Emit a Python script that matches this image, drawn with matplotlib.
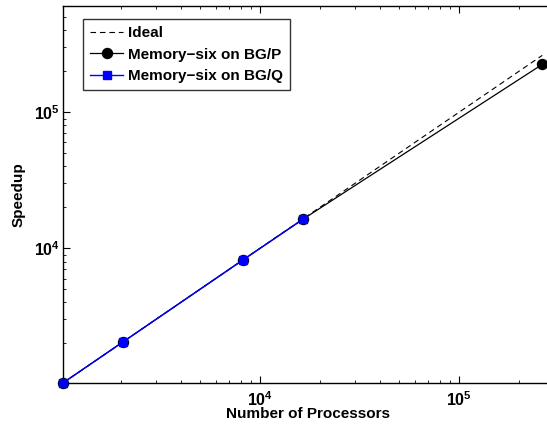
import matplotlib
matplotlib.use("Agg")
import matplotlib.pyplot as plt
from matplotlib.ticker import LogLocator, NullFormatter

plt.rcParams['font.family'] = ['Liberation Sans', 'DejaVu Sans']
plt.rcParams['font.weight'] = 'bold'

# processors vs speedup
ideal_x = [1024, 262144]
ideal_y = [1024, 262144]

bgp_procs = [1024, 2048, 8192, 16384, 262144]
bgp_speedup = [1024, 2048, 8192, 16300, 225000]

bgq_procs = [1024, 2048, 8192, 16384]
bgq_speedup = [1024, 2048, 8192, 16300]

fig = plt.figure(figsize=(5.47, 4.26), dpi=100)
ax = fig.add_axes([0.115, 0.101, 0.895, 0.885])

ax.plot(ideal_x, ideal_y, color='black', lw=0.8, dashes=(5, 3.5), label='Ideal')
ax.plot(bgp_procs, bgp_speedup, '-o', color='black', lw=0.9, ms=7.2,
        label='Memory\u2212six on BG/P', clip_on=False, zorder=3)
ax.plot(bgq_procs, bgq_speedup, '-s', color='#0000ff', lw=1.0, ms=5.8,
        label='Memory\u2212six on BG/Q', clip_on=False, zorder=4)

ax.set_xscale('log')
ax.set_yscale('log')
ax.set_xlim(1024, 2.95e5)
ax.set_ylim(1024, 6.05e5)

for axis in (ax.xaxis, ax.yaxis):
    axis.set_major_locator(LogLocator(base=10))
    axis.set_minor_locator(LogLocator(base=10, subs=range(2, 10)))
    axis.set_minor_formatter(NullFormatter())

ax.tick_params(which='both', direction='in', top=True, right=False, labelsize=11.5)
ax.tick_params(which='major', length=5, width=0.8)
ax.tick_params(which='minor', length=2.5, width=0.6)
ax.tick_params(axis='y', pad=2)
ax.tick_params(axis='x', pad=5)
for s in ax.spines.values():
    s.set_linewidth(1.0)

ax.set_xlabel('Number of Processors', fontsize=11, fontweight='bold', labelpad=-1)
ax.set_ylabel('Speedup', fontsize=11, fontweight='bold', labelpad=6)

leg = ax.legend(loc='upper left', bbox_to_anchor=(0.041, 0.965), fontsize=11,
                frameon=True, fancybox=False, edgecolor='black',
                handlelength=2.2, handletextpad=0.3, borderpad=0.45,
                labelspacing=0.5, borderaxespad=0)
leg.get_frame().set_linewidth(1.0)

fig.savefig('out.png', dpi=100)
